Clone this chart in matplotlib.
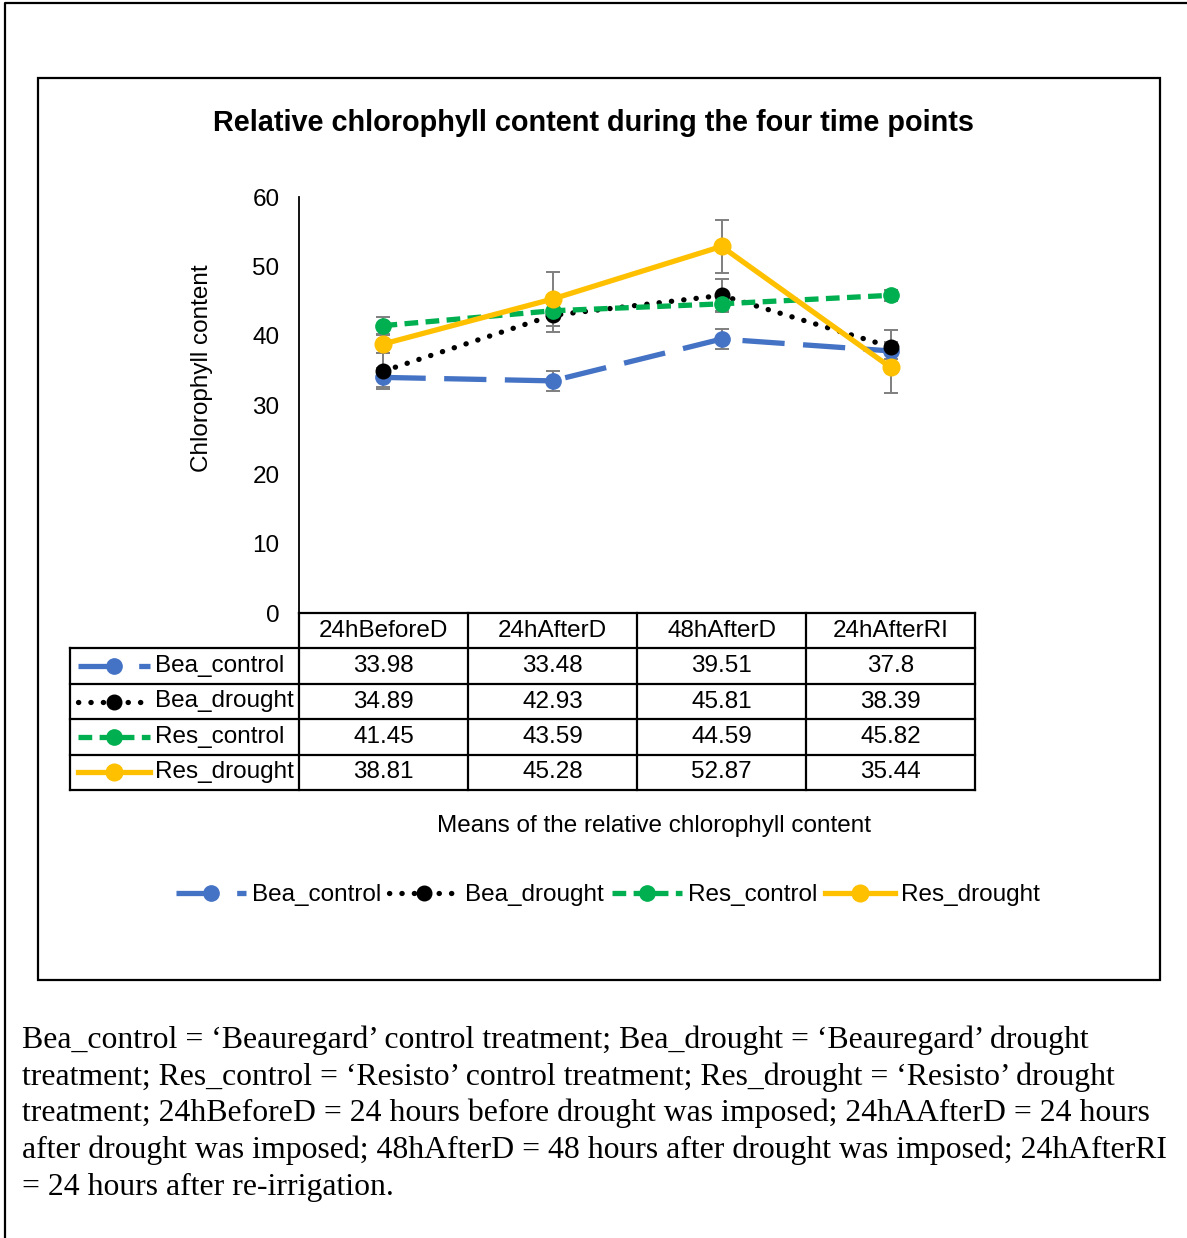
import matplotlib
matplotlib.use("Agg")
import matplotlib.pyplot as plt
from matplotlib.lines import Line2D
import numpy as np

plt.rcParams['font.family'] = ['Liberation Sans', 'DejaVu Sans']

# data
times = ['24hBeforeD', '24hAfterD', '48hAfterD', '24hAfterRI']
series = ['Bea_control', 'Bea_drought', 'Res_control', 'Res_drought']
bea_control = [33.98, 33.48, 39.51, 37.8]
bea_drought = [34.89, 42.93, 45.81, 38.39]
res_control = [41.45, 43.59, 44.59, 45.82]
res_drought = [38.81, 45.28, 52.87, 35.44]
# error bars (approximate)
bea_control_err = [1.4, 1.45, 1.5, 1.2]
bea_drought_err = [2.6, 2.4, 2.4, 2.4]
res_control_err = [1.2, 1.0, 1.0, 0.8]
res_drought_err = [1.3, 3.9, 3.8, 3.7]

values = [bea_control, bea_drought, res_control, res_drought]
errors = [bea_control_err, bea_drought_err, res_control_err, res_drought_err]

styles = [
    dict(color='#4472C4', linestyle=(0, (8, 3.5)), marker='o', markersize=11),
    dict(color='black', linestyle=(0, (0.05, 2.3)), dash_capstyle='round', marker='o', markersize=10.5),
    dict(color='#00B050', linestyle=(0, (2.6, 1.4)), marker='o', markersize=11),
    dict(color='#FFC000', linestyle='-', marker='o', markersize=12),
]
lw = 3.8
fs = 17.5

W, H = 1187, 1238
fig = plt.figure(figsize=(W / 100, H / 100), dpi=100)


def box(x0, y0, x1, y1):
    return [x0 / W, 1 - y1 / H, (x1 - x0) / W, (y1 - y0) / H]


# outer and inner frames
fig.add_artist(Line2D([5 / W, 5 / W, 1], [0, 1 - 3 / H, 1 - 3 / H], color='black', lw=1.6))
fig.add_artist(plt.Rectangle((38 / W, 1 - 980 / H), (1160 - 38) / W, (980 - 78) / H,
                             fill=False, edgecolor='black', lw=1.6))

# main plot
ax = fig.add_axes(box(299, 197, 975, 613))
x = np.arange(len(times))
handles = []
for name, v, e, st in zip(series, values, errors, styles):
    ax.errorbar(x, v, yerr=e, fmt='none', ecolor='#7f7f7f', elinewidth=1.4,
                capsize=5, capthick=1.4, zorder=2)
    h, = ax.plot(x, v, lw=lw, label=name, zorder=3, **st)
    handles.append(h)

ax.set_xlim(-0.5, len(times) - 0.5)
ax.set_ylim(0, 60)
ax.set_yticks(range(0, 61, 10))
ax.set_xticks([])
ax.tick_params(axis='y', length=0, labelsize=fs, pad=14)
for s in ['top', 'right', 'bottom']:
    ax.spines[s].set_visible(False)
ax.spines['left'].set_linewidth(1.3)
ax.set_ylabel('Chlorophyll content', fontsize=fs)
ax.yaxis.set_label_coords((213 - 299) / 676, (613 - 368) / 416)
ax.patch.set_alpha(0)

fig.text(593 / W, 1 - 123 / H, 'Relative chlorophyll content during the four time points',
         ha='center', va='center', fontsize=20.75, fontweight='bold')

# data table below the plot
tab = fig.add_axes(box(70, 613, 975, 790))
left = -0.5 - (299 - 70) / 169
tab.set_xlim(left, len(times) - 0.5)
tab.set_ylim(len(series) + 1, 0)
tab.axis('off')
tlw = 1.6
tab.plot([-0.5, len(times) - 0.5], [0, 0], color='black', lw=tlw, clip_on=False)
for r in range(1, len(series) + 2):
    tab.plot([left, len(times) - 0.5], [r, r], color='black', lw=tlw, clip_on=False)
tab.plot([left, left], [1, len(series) + 1], color='black', lw=tlw, clip_on=False)
for c in np.arange(len(times) + 1) - 0.5:
    tab.plot([c, c], [0, len(series) + 1], color='black', lw=tlw, clip_on=False)
for i, t in enumerate(times):
    tab.text(i, 0.5, t, ha='center', va='center', fontsize=fs)
for r, (name, v, st) in enumerate(zip(series, values, styles), start=1):
    for i, val in enumerate(v):
        tab.text(i, r + 0.5, f'{val:g}', ha='center', va='center', fontsize=fs)
    kx0 = left + 8 / 169
    kx1 = left + 80 / 169
    tab.plot([kx0, kx1], [r + 0.5, r + 0.5], lw=lw, color=st['color'],
             linestyle=st['linestyle'], dash_capstyle=st.get('dash_capstyle', 'butt'),
             clip_on=False)
    tab.plot([(kx0 + kx1) / 2], [r + 0.5], marker='o', color=st['color'],
             markersize=st['markersize'], clip_on=False)
    tab.text(left + 85 / 169, r + 0.5, name, ha='left', va='center', fontsize=fs)

fig.text(654 / W, 1 - 826 / H, 'Means of the relative chlorophyll content',
         ha='center', va='center', fontsize=fs)

fig.legend(handles=handles, loc='center', bbox_to_anchor=(608 / W, 1 - 895 / H),
           ncol=4, frameon=False, fontsize=fs, handlelength=2.9,
           handletextpad=0.25, columnspacing=0.3)

# footnote
notes = [
    'Bea_control = \u2018Beauregard\u2019 control treatment; Bea_drought = \u2018Beauregard\u2019 drought',
    'treatment; Res_control = \u2018Resisto\u2019 control treatment; Res_drought = \u2018Resisto\u2019 drought',
    'treatment; 24hBeforeD = 24 hours before drought was imposed; 24hAAfterD = 24 hours',
    'after drought was imposed; 48hAfterD = 48 hours after drought was imposed; 24hAfterRI',
    '= 24 hours after re-irrigation.',
]
for k, line in enumerate(notes):
    fig.text(22 / W, 1 - (1040 + 36.8 * k) / H, line, ha='left', va='center',
             fontsize=22.9, family='Liberation Serif')

fig.savefig('out.png', dpi=100)
